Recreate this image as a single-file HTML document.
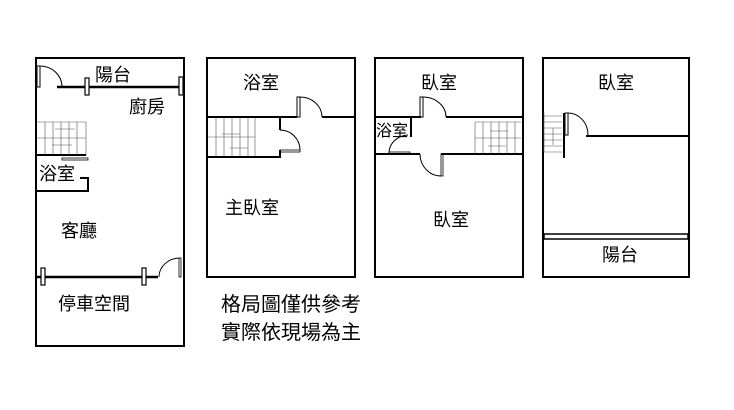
<!DOCTYPE html>
<html><head><meta charset="utf-8"><style>
html,body{margin:0;padding:0;background:#fff;width:734px;height:410px;overflow:hidden}
text{font-family:"Liberation Sans","Noto Sans CJK TC",sans-serif;font-size:18px;fill:#000}
</style></head><body>
<svg width="734" height="410" viewBox="0 0 734 410" xmlns="http://www.w3.org/2000/svg">
<g fill="none" stroke="#000">
<rect x="36" y="58" width="148" height="288" stroke-width="2"/>
<line x1="57" y1="87" x2="184" y2="87" stroke-width="2.5"/>
<rect x="37" y="66" width="3" height="21" stroke-width="1"/>
<path d="M40 66 A22 21 0 0 1 62 87" stroke-width="1"/>
<rect x="85" y="78" width="4" height="17" fill="#fff" stroke-width="1.2"/>
<rect x="179" y="77" width="4" height="18" fill="#fff" stroke-width="1.2"/>
<g stroke-width="0.6" stroke="#555">
<line x1="37" y1="122" x2="86" y2="122"/><line x1="37" y1="138" x2="86" y2="138"/>
<line x1="45" y1="122" x2="45" y2="155"/><line x1="53" y1="122" x2="53" y2="155"/><line x1="61" y1="122" x2="61" y2="155"/><line x1="69" y1="122" x2="69" y2="155"/><line x1="77" y1="122" x2="77" y2="155"/><line x1="86" y1="122" x2="86" y2="155"/>
<line x1="55" y1="129" x2="75" y2="129"/><line x1="52" y1="145" x2="72" y2="145"/>
</g>
<line x1="36" y1="155" x2="86" y2="155" stroke-width="2"/>
<rect x="62" y="158" width="26" height="2" stroke-width="0.8"/>
<path d="M80 178 H88 V191 H36" stroke-width="2"/>
<line x1="37" y1="277" x2="158" y2="277" stroke-width="2.5"/>
<rect x="41" y="268" width="4" height="17" fill="#fff" stroke-width="1.2"/>
<rect x="142" y="268" width="4" height="17" fill="#fff" stroke-width="1.2"/>
<rect x="179" y="258" width="2" height="19" stroke-width="0.8"/>
<path d="M159 277 A21 19 0 0 1 180 258" stroke-width="1"/>
<rect x="207" y="58" width="148" height="219" stroke-width="2"/>
<path d="M207 117 H297 M322 117 H355" stroke-width="2"/>
<rect x="297" y="97" width="3" height="20" stroke-width="1"/>
<path d="M300 97 A22 20 0 0 1 322 117" stroke-width="1"/>
<g stroke-width="0.6" stroke="#555">
<line x1="208" y1="137" x2="255" y2="137"/>
<line x1="216" y1="118" x2="216" y2="157"/><line x1="224" y1="118" x2="224" y2="157"/><line x1="232" y1="118" x2="232" y2="157"/><line x1="240" y1="118" x2="240" y2="157"/><line x1="248" y1="118" x2="248" y2="157"/><line x1="255" y1="118" x2="255" y2="157"/>
<line x1="222" y1="134" x2="240" y2="134"/><line x1="230" y1="148" x2="248" y2="148"/>
</g>
<path d="M207 157 H280 V150 M280 117 V130" stroke-width="2"/>
<rect x="280" y="150" width="20" height="2" stroke-width="0.8"/>
<path d="M280 130 A20 20 0 0 1 300 150" stroke-width="1"/>
<rect x="375" y="58" width="148" height="219" stroke-width="2"/>
<path d="M375 117 H421 M446 117 H523" stroke-width="2"/>
<rect x="420" y="97" width="3" height="20" stroke-width="1"/>
<path d="M423 97 A23 20 0 0 1 446 117" stroke-width="1"/>
<line x1="411" y1="117" x2="411" y2="137" stroke-width="2"/>
<path d="M375 154 H420 M441 154 H523" stroke-width="2"/>
<rect x="389" y="152" width="21" height="2" stroke-width="0.8"/>
<path d="M389 153 A20 18 0 0 1 408 135" stroke-width="1"/>
<rect x="441" y="154" width="2" height="22" stroke-width="0.8"/>
<path d="M420 154 A21 22 0 0 0 441 176" stroke-width="1"/>
<g stroke-width="0.6" stroke="#555">
<line x1="475" y1="122" x2="521" y2="122"/><line x1="475" y1="138" x2="521" y2="138"/>
<line x1="475" y1="122" x2="475" y2="154"/><line x1="483" y1="122" x2="483" y2="154"/><line x1="491" y1="122" x2="491" y2="154"/><line x1="499" y1="122" x2="499" y2="154"/><line x1="507" y1="122" x2="507" y2="154"/><line x1="515" y1="122" x2="515" y2="154"/>
<line x1="490" y1="131" x2="508" y2="131"/><line x1="488" y1="146" x2="506" y2="146"/>
</g>
<rect x="543" y="58" width="146" height="219" stroke-width="2"/>
<rect x="544" y="234" width="144" height="5" stroke-width="1.5"/>
<line x1="586" y1="136" x2="689" y2="136" stroke-width="2"/>
<rect x="565" y="113" width="3" height="22" stroke-width="1"/>
<path d="M568 113 A20 22 0 0 1 588 135" stroke-width="1"/>
<line x1="564" y1="113" x2="564" y2="158" stroke-width="2"/>
<g stroke-width="0.6" stroke="#555">
<line x1="544" y1="116" x2="562" y2="116"/><line x1="544" y1="122" x2="562" y2="122"/><line x1="544" y1="128" x2="562" y2="128"/><line x1="544" y1="134" x2="562" y2="134"/><line x1="544" y1="140" x2="562" y2="140"/><line x1="544" y1="146" x2="562" y2="146"/><line x1="544" y1="152" x2="562" y2="152"/>
<line x1="544" y1="113" x2="544" y2="152"/><line x1="553" y1="128" x2="553" y2="145"/>
</g>
</g>
<text x="95" y="81">陽台</text>
<text x="129" y="113">廚房</text>
<text x="39" y="180">浴室</text>
<text x="61" y="237">客廳</text>
<text x="58" y="310">停車空間</text>
<text x="243" y="89">浴室</text>
<text x="225" y="214">主臥室</text>
<text x="421" y="89">臥室</text>
<text x="376" y="136" style="font-size:16px">浴室</text>
<text x="433" y="226">臥室</text>
<text x="598" y="89">臥室</text>
<text x="602" y="261">陽台</text>
<text x="221" y="311" style="font-size:20px">格局圖僅供參考</text>
<text x="221" y="339" style="font-size:20px">實際依現場為主</text>
</svg>
</body></html>
